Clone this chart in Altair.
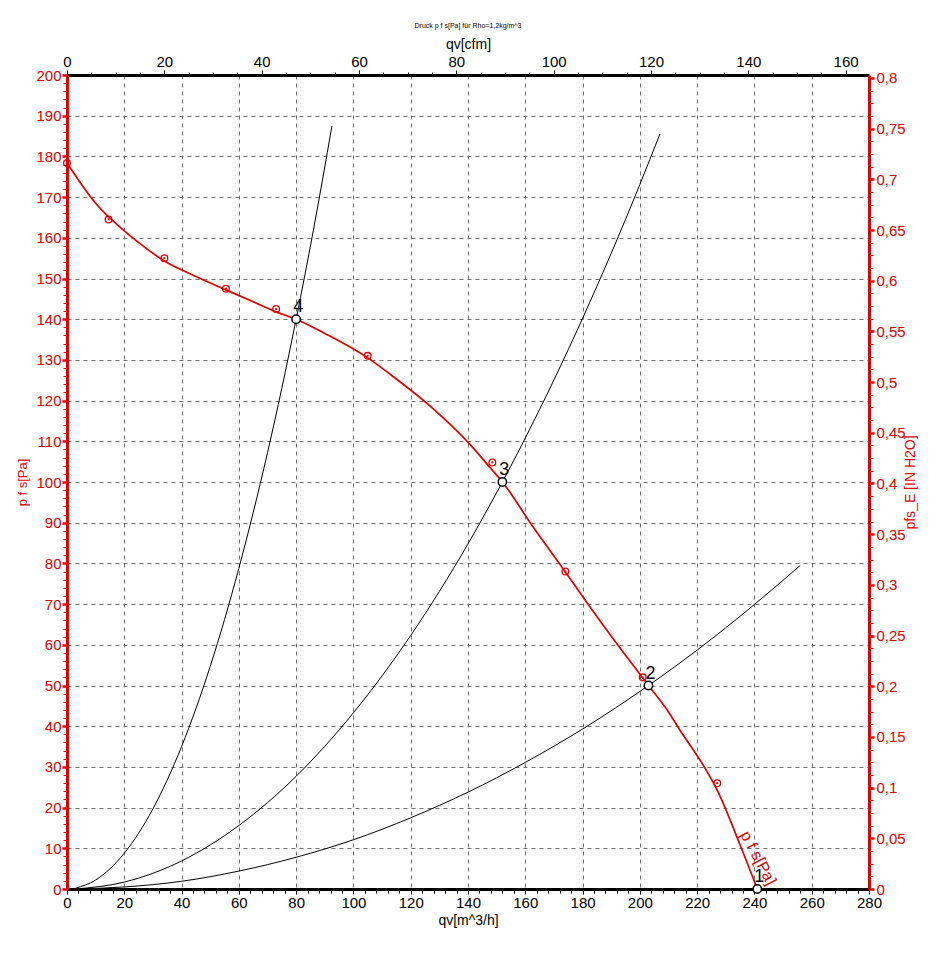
import altair as alt
import pandas as pd

# ---------------- data ----------------
# Fan curve p f s [Pa] versus qv [m^3/h]
fan_q = [0, 5.7, 10, 18.5, 25, 34, 45, 55.5, 65, 73, 80, 90, 105, 115, 127, 141, 148, 152,
         162, 174, 186, 196, 203, 210, 214, 221, 227, 235, 241]
fan_p = [178.4, 172.5, 168.5, 162.6, 158.8, 154.3, 150.5, 147.2, 144.3, 141.8, 140, 136.5,
         130.5, 125.3, 118.5, 109, 103.3, 100, 89.7, 77.9, 66, 56.5, 50, 43.5, 39, 31.7,
         24.3, 10.8, 0]

# measured points (red ring markers)
meas_q = [0, 14.5, 34, 55.5, 73, 105, 148.5, 174, 201, 227]
meas_p = [178.4, 164.5, 155, 147.5, 142.5, 131, 104.8, 78, 52, 26]

# system resistance curves (black)
sys4_q = [3, 10, 20, 30, 40, 50, 60, 70, 80, 86, 92.5]
sys4_p = [0.2, 2.2, 8.8, 19.7, 35, 54.7, 78.8, 107.2, 140, 161.8, 187.5]
sys3_q = [3, 20, 40, 60, 80, 100, 120, 140, 152, 160, 180, 200, 207]
sys3_p = [0.0, 1.7, 6.9, 15.6, 27.7, 43.3, 62.3, 84.8, 100, 110.8, 140.2, 173.1, 185.5]
sys2_q = [3, 20, 40, 60, 80, 100, 120, 140, 160, 180, 203, 220, 240, 256]
sys2_p = [0.0, 0.5, 1.9, 4.4, 7.8, 12.1, 17.5, 23.8, 31.1, 39.3, 50, 58.7, 69.9, 79.5]

# operating points
op_q = [241, 203, 152, 80]
op_p = [0, 50, 100, 140]
op_label = ["1", "2", "3", "4"]

# curve label
curve_label_q = [241.3]
curve_label_p = [7.6]
curve_label_text = ["p f s[Pa]"]

# axis ticks
x_ticks = list(range(0, 281, 4))          # m^3/h
y_ticks = list(range(0, 201, 2))          # Pa
cfm_ticks = list(range(0, 161, 5))        # cfm
inh2o_ticks = [round(i * 0.0125, 4) for i in range(65)]  # IN H2O

CFM_PER_M3H = 0.588578
PA_PER_INH2O = 249.089

RED = "#e00000"
FONT = "Liberation Sans"
GRID = "#707070"

# ---------------- axes ----------------
x_axis = alt.Axis(
    orient="bottom", values=x_ticks, title="qv[m^3/h]",
    labelExpr="datum.value % 20 === 0 ? datum.label : ''",
    labelOverlap=False, labelFlush=False,
    grid=True, gridDash=[4, 4], gridColor=GRID,
    gridOpacity={"condition": {"test": "datum.value % 20 === 0 && datum.value > 0 && datum.value < 280", "value": 1}, "value": 0},
    domainColor="black", domainWidth=3,
    tickColor="black",
    tickSize={"condition": {"test": "datum.value % 20 === 0", "value": 5}, "value": 4},
    tickWidth=1,
    labelColor="black", labelFont=FONT, labelFontSize=15, labelPadding=1,
    titleColor="black", titleFont=FONT, titleFontSize=14, titleFontWeight="normal", titlePadding=3,
)
y_axis = alt.Axis(
    orient="left", values=y_ticks, title="p f s[Pa]",
    labelExpr="datum.value % 10 === 0 ? datum.label : ''",
    labelOverlap=False, labelFlush=False,
    grid=True, gridDash=[4, 4], gridColor=GRID,
    gridOpacity={"condition": {"test": "datum.value % 10 === 0 && datum.value > 0 && datum.value < 200", "value": 1}, "value": 0},
    domainColor=RED, domainWidth=3,
    tickColor=RED,
    tickSize={"condition": {"test": "datum.value % 10 === 0", "value": 5}, "value": 4},
    tickWidth={"condition": {"test": "datum.value % 10 === 0", "value": 2.5}, "value": 1},
    labelColor=RED, labelFont=FONT, labelFontSize=15, labelPadding=1,
    titleColor=RED, titleFont=FONT, titleFontSize=13, titleFontWeight="normal", titlePadding=6,
)
top_axis = alt.Axis(
    orient="top", values=cfm_ticks, title="qv[cfm]",
    labelExpr="datum.value % 20 === 0 ? datum.label : ''",
    labelOverlap=False, labelFlush=False, grid=False,
    domainColor="black", domainWidth=3,
    tickColor="black",
    tickSize={"condition": {"test": "datum.value % 20 === 0", "value": 5}, "value": 3},
    tickWidth=1,
    labelColor="black", labelFont=FONT, labelFontSize=15, labelPadding=1,
    titleColor="black", titleFont=FONT, titleFontSize=14, titleFontWeight="normal", titlePadding=3,
)
right_axis = alt.Axis(
    orient="right", values=inh2o_ticks, title="pfs_E [IN H2O]", titleAngle=270,
    labelExpr="abs(datum.value * 20 - round(datum.value * 20)) < 0.000001 ? replace(format(datum.value, '.2~f'), '.', ',') : ''",
    labelOverlap=False, labelFlush=False, grid=False,
    domainColor=RED, domainWidth=3,
    tickColor=RED,
    tickSize={"condition": {"test": "abs(datum.value * 20 - round(datum.value * 20)) < 0.000001", "value": 5}, "value": 4},
    tickWidth={"condition": {"test": "abs(datum.value * 20 - round(datum.value * 20)) < 0.000001", "value": 2.5}, "value": 1},
    labelColor=RED, labelFont=FONT, labelFontSize=15, labelPadding=2,
    titleColor=RED, titleFont=FONT, titleFontSize=14, titleFontWeight="normal", titlePadding=12,
)

x_scale = alt.Scale(domain=[0, 280], nice=False, zero=False)
y_scale = alt.Scale(domain=[0, 200], nice=False, zero=False)


def X():
    return alt.X("q:Q", scale=x_scale, axis=x_axis)


def Y():
    return alt.Y("p:Q", scale=y_scale, axis=y_axis)


fan_df = pd.DataFrame({"q": fan_q, "p": fan_p, "o": list(range(len(fan_q)))})
meas_df = pd.DataFrame({"q": meas_q, "p": meas_p})
sys_df = pd.concat([
    pd.DataFrame({"q": sys4_q, "p": sys4_p, "s": "4", "o": list(range(len(sys4_q)))}),
    pd.DataFrame({"q": sys3_q, "p": sys3_p, "s": "3", "o": list(range(len(sys3_q)))}),
    pd.DataFrame({"q": sys2_q, "p": sys2_p, "s": "2", "o": list(range(len(sys2_q)))}),
])
op_df = pd.DataFrame({"q": op_q, "p": op_p, "label": op_label})
lab_df = pd.DataFrame({"q": curve_label_q, "p": curve_label_p, "t": curve_label_text})

sys_lines = alt.Chart(sys_df).mark_line(color="black", strokeWidth=1, interpolate="monotone").encode(
    x=X(), y=Y(), detail="s:N", order="o:Q")
fan_line = alt.Chart(fan_df).mark_line(color=RED, strokeWidth=1.7, interpolate="monotone").encode(
    x=X(), y=Y(), order="o:Q")
meas_ring = alt.Chart(meas_df).mark_point(shape="circle", size=45, color=RED, filled=False,
                                          strokeWidth=1.3, opacity=1).encode(x=X(), y=Y())
meas_dot = alt.Chart(meas_df).mark_point(shape="circle", size=5, color=RED, filled=True,
                                         opacity=1).encode(x=X(), y=Y())
op_pts = alt.Chart(op_df).mark_point(shape="circle", size=70, fill="white", stroke="black",
                                     strokeWidth=1.5, filled=True, opacity=1).encode(x=X(), y=Y())
op_text = alt.Chart(op_df).mark_text(font=FONT, fontSize=18, color="black", dx=2, dy=-12,
                                     baseline="middle", align="center").encode(
    x=X(), y=Y(), text="label:N")
curve_text = alt.Chart(lab_df).mark_text(font=FONT, fontSize=16, color=RED, angle=62,
                                         baseline="middle", align="center").encode(
    x=X(), y=Y(), text="t:N")

main = alt.layer(sys_lines, fan_line, meas_ring, meas_dot, op_pts, op_text, curve_text)

sec_df = pd.DataFrame({"cfm": [0, 160], "inh2o": [0, 0.8]})
secondary = alt.Chart(sec_df).mark_point(opacity=0).encode(
    x=alt.X("cfm:Q", scale=alt.Scale(domain=[0, 280 * CFM_PER_M3H], nice=False, zero=False), axis=top_axis),
    y=alt.Y("inh2o:Q", scale=alt.Scale(domain=[0, 200 / PA_PER_INH2O], nice=False, zero=False), axis=right_axis),
)

chart = alt.layer(main, secondary).resolve_scale(x="independent", y="independent").properties(
    width=802, height=814,
    title=alt.TitleParams(text="Druck p f s[Pa] für Rho=1,2kg/m^3", fontSize=7, font=FONT,
                          fontWeight="normal", color="black", anchor="middle", offset=8),
    autosize=alt.AutoSizeParams(type="none"),
    padding={"left": 67, "top": 75, "right": 67, "bottom": 67},
).configure_view(stroke=None).configure(background="white")

chart.save("out.html", embed_options={"renderer": "svg", "actions": False})
